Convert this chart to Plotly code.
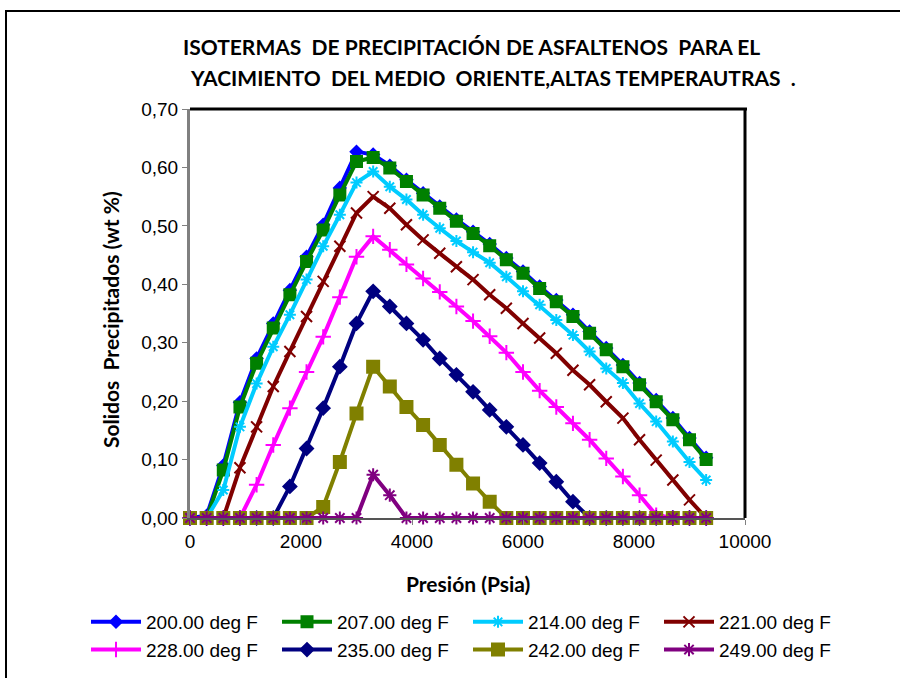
import plotly.graph_objects as go

# Pressure grid (psia)
presion = [0, 300, 600, 900, 1200, 1500, 1800, 2100, 2400, 2700, 3000, 3300,
           3600, 3900, 4200, 4500, 4800, 5100, 5400, 5700, 6000, 6300, 6600,
           6900, 7200, 7500, 7800, 8100, 8400, 8700, 9000, 9300]

# Precipitated solids (wt %) per isotherm
t200 = [0, 0.004, 0.090, 0.198, 0.273, 0.333, 0.390, 0.447, 0.502, 0.565, 0.627, 0.622,
        0.603, 0.579, 0.556, 0.533, 0.511, 0.490, 0.469, 0.445, 0.422, 0.396, 0.373,
        0.348, 0.319, 0.291, 0.262, 0.231, 0.202, 0.171, 0.137, 0.103]
t207 = [0, 0, 0.082, 0.190, 0.265, 0.325, 0.382, 0.439, 0.493, 0.553, 0.610, 0.617,
        0.599, 0.576, 0.553, 0.530, 0.508, 0.487, 0.466, 0.442, 0.419, 0.393, 0.370,
        0.345, 0.316, 0.288, 0.259, 0.228, 0.199, 0.168, 0.134, 0.100]
t214 = [0, 0, 0.048, 0.156, 0.230, 0.293, 0.348, 0.408, 0.465, 0.519, 0.574, 0.593,
        0.567, 0.545, 0.519, 0.496, 0.474, 0.455, 0.437, 0.413, 0.388, 0.365, 0.339,
        0.313, 0.285, 0.256, 0.231, 0.196, 0.165, 0.131, 0.096, 0.065]
t221 = [0, 0, 0, 0.086, 0.156, 0.225, 0.285, 0.345, 0.405, 0.465, 0.522, 0.550,
        0.530, 0.502, 0.476, 0.453, 0.430, 0.408, 0.382, 0.359, 0.333, 0.308, 0.282,
        0.253, 0.228, 0.199, 0.171, 0.134, 0.099, 0.065, 0.031, 0]
t228 = [0, 0, 0, 0, 0.057, 0.125, 0.188, 0.250, 0.310, 0.378, 0.447, 0.482,
        0.459, 0.434, 0.410, 0.387, 0.362, 0.337, 0.311, 0.283, 0.250, 0.218, 0.190,
        0.162, 0.134, 0.102, 0.071, 0.039, 0.005, 0, 0, 0]
t235 = [0, 0, 0, 0, 0, 0, 0.054, 0.119, 0.188, 0.259, 0.333, 0.388,
        0.362, 0.333, 0.305, 0.273, 0.245, 0.216, 0.185, 0.156, 0.125, 0.094, 0.062,
        0.028, 0, 0, 0, 0, 0, 0, 0, 0]
t242 = [0, 0, 0, 0, 0, 0, 0, 0, 0.019, 0.096, 0.179, 0.259,
        0.225, 0.190, 0.159, 0.125, 0.091, 0.059, 0.028, 0, 0, 0, 0,
        0, 0, 0, 0, 0, 0, 0, 0, 0]
t249 = [0, 0, 0, 0, 0, 0, 0, 0, 0, 0, 0, 0.074,
        0.039, 0, 0, 0, 0, 0, 0, 0, 0, 0, 0,
        0, 0, 0, 0, 0, 0, 0, 0, 0]

nombres = ["200.00 deg F", "207.00 deg F", "214.00 deg F", "221.00 deg F",
           "228.00 deg F", "235.00 deg F", "242.00 deg F", "249.00 deg F"]
series = [t200, t207, t214, t221, t228, t235, t242, t249]

colores = ["#0000FF", "#008000", "#00CCFF", "#800000",
           "#FF00FF", "#000080", "#808000", "#800080"]
simbolos = ["diamond", "square", "asterisk-open", "x-thin-open",
            "cross-thin-open", "diamond", "square", "asterisk-open"]
tamanos = [9, 11, 10, 11, 11, 10, 12, 11]

# page geometry (px)
W, H = 900, 678
ML, MR, MT, MB = 60, 60, 109, 160
GW = W - ML - MR
GH = H - MT - MB
PLOT_X0, PLOT_X1 = 190, 745


def px(x):
    return (x - ML) / GW


def py(y):
    return (H - MB - y) / GH


fig = go.Figure()
for nombre, vals, col, sym, sz in zip(nombres, series, colores, simbolos, tamanos):
    fig.add_trace(go.Scatter(
        x=presion, y=vals, name=nombre, mode="lines+markers",
        line=dict(color=col, width=4),
        marker=dict(symbol=sym, size=sz, color=col, line=dict(color=col, width=2)),
        cliponaxis=False,
    ))

TXT = "Liberation Sans"
BOLD = "Lato"

fig.update_layout(
    width=W, height=H,
    margin=dict(l=ML, r=MR, t=MT, b=MB, autoexpand=False),
    paper_bgcolor="white", plot_bgcolor="white",
    separators=",.",
    showlegend=True,
    legend=dict(
        orientation="h", x=px(86), xanchor="left", y=py(603), yanchor="top",
        font=dict(family=TXT, size=19, color="black"),
        entrywidth=126, itemwidth=50, tracegroupgap=0,
        bgcolor="rgba(0,0,0,0)",
    ),
    xaxis=dict(
        domain=[px(PLOT_X0), px(PLOT_X1)],
        range=[0, 10000], dtick=2000, tickformat="d",
        showgrid=False, zeroline=False,
        showline=True, linecolor="#555555", linewidth=2, layer="above traces",
        ticks="outside", ticklen=5, tickcolor="#808080",
        tickfont=dict(family=TXT, size=19, color="black"),
    ),
    yaxis=dict(
        range=[0, 0.70], dtick=0.1, tickformat=".2f",
        showgrid=False, zeroline=False,
        showline=True, linecolor="#808080", linewidth=3,
        ticks="outside", ticklen=5, tickcolor="#808080",
        tickfont=dict(family=TXT, size=19, color="black"),
    ),
    font=dict(family=TXT, color="black"),
)

# plot-area frame (top and right edges) and outer chart border
fig.add_shape(type="line", xref="paper", yref="paper",
              x0=px(PLOT_X0), x1=px(PLOT_X1 + 2), y0=1, y1=1,
              line=dict(color="black", width=3))
fig.add_shape(type="line", xref="paper", yref="paper",
              x0=px(PLOT_X1), x1=px(PLOT_X1), y0=0, y1=1,
              line=dict(color="black", width=3))
fig.add_shape(type="rect", xref="paper", yref="paper",
              x0=px(6), x1=px(910), y0=py(690), y1=py(11),
              line=dict(color="black", width=2), fillcolor="rgba(0,0,0,0)")

# titles
fig.add_annotation(text="<b>ISOTERMAS  DE PRECIPITACIÓN DE ASFALTENOS  PARA EL</b>",
                   xref="paper", yref="paper", x=px(471), y=py(46),
                   xanchor="center", yanchor="middle", showarrow=False,
                   font=dict(family=BOLD, size=21, color="black"))
fig.add_annotation(text="<b>YACIMIENTO  DEL MEDIO  ORIENTE,ALTAS TEMPERAUTRAS  .</b>",
                   xref="paper", yref="paper", x=px(493), y=py(77),
                   xanchor="center", yanchor="middle", showarrow=False,
                   font=dict(family=BOLD, size=21, color="black"))
fig.add_annotation(text="<b>Solidos  Precipitados (wt %)</b>",
                   xref="paper", yref="paper", x=px(110), y=py(320),
                   xanchor="center", yanchor="middle", textangle=-90, showarrow=False,
                   font=dict(family=BOLD, size=21, color="black"))
fig.add_annotation(text="<b>Presión (Psia)</b>",
                   xref="paper", yref="paper", x=px(468), y=py(583),
                   xanchor="center", yanchor="middle", showarrow=False,
                   font=dict(family=BOLD, size=21, color="black"))

fig.write_html("out.html")
